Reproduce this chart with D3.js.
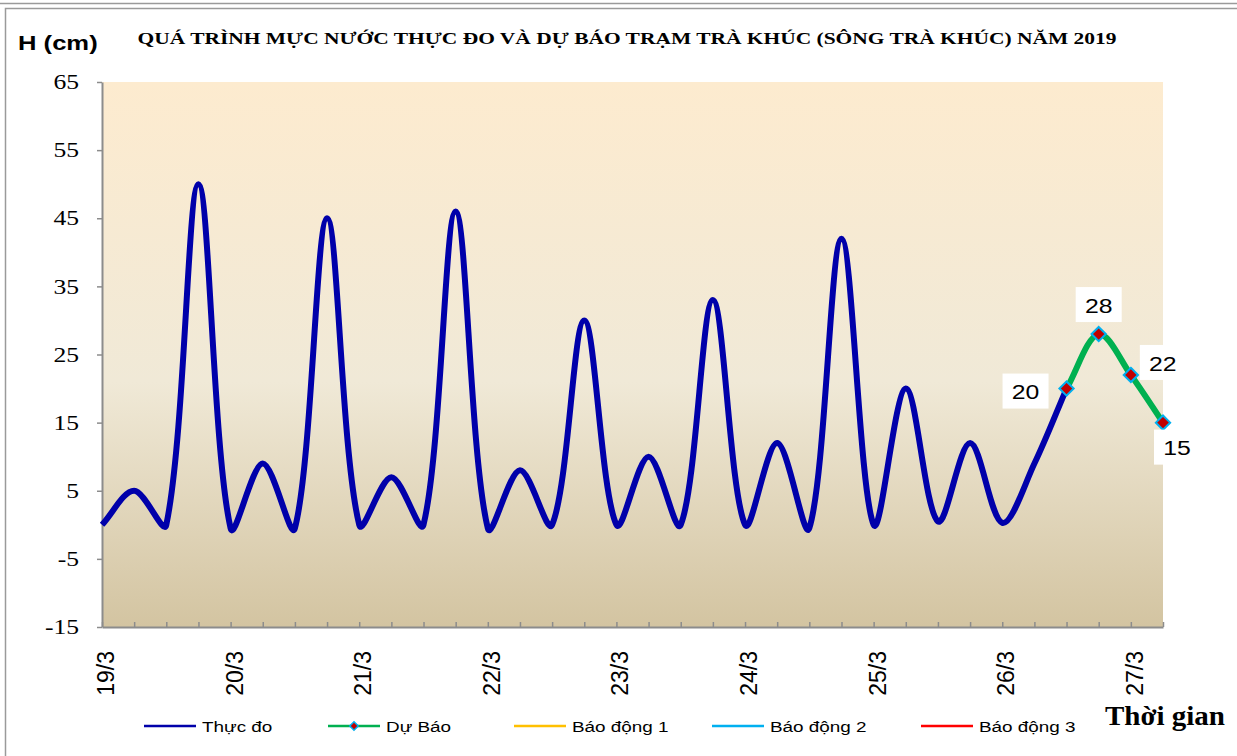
<!DOCTYPE html>
<html>
<head>
<meta charset="utf-8">
<script src="https://cdn.jsdelivr.net/npm/d3@7"></script>
<style>
  body { margin: 0; background: #fff; }
  svg { display: block; }
</style>
</head>
<body>
<div id="chart"></div>
<script>
// muc nuoc Tra Khuc, 6h/diem, tu 19/3 den 27/3
var dayLabels = ["19/3", "20/3", "21/3", "22/3", "23/3", "24/3", "25/3", "26/3", "27/3"];
var yTicks = [-15, -5, 5, 15, 25, 35, 45, 55, 65];
var thucDo = [0, 5, 0, 50, -0.5, 9, -0.5, 45, 0, 7, 0, 46, -0.5, 8, 0, 30,
              0, 10, 0, 33, 0, 12, -0.5, 42, 0, 20, 0.5, 12, 0.3, 9, 20];
var duBao = [20, 28, 22, 15];
var duBaoStart = 30;
var legendNames = ["Thực đo", "Dự Báo", "Báo động 1", "Báo động 2", "Báo động 3"];
var legendColors = ["#0000AA", "#00B050", "#FFC000", "#00B0F0", "#FF0000"];

var WIDTH = 1237, HEIGHT = 756;
var X0 = 102, X1 = 1163, Y0 = 82, Y1 = 627;
var SX = 1.22;   // chu bi keo gian ngang trong hinh goc
var SANS = "'Liberation Sans', Arial, sans-serif";
var SERIF = "'Liberation Serif', 'Times New Roman', serif";

var svg = d3.select("#chart").append("svg")
    .attr("width", WIDTH)
    .attr("height", HEIGHT);

// khung ngoai
svg.append("line")
    .attr("x1", 0).attr("x2", WIDTH).attr("y1", 3.5).attr("y2", 3.5)
    .style("stroke", "#9a9a9a").style("stroke-width", 1.5);
svg.append("rect")
    .attr("x", 5.5).attr("y", 8.5)
    .attr("width", WIDTH).attr("height", HEIGHT)
    .style("fill", "none").style("stroke", "#9a9a9a").style("stroke-width", 1.5);

var nPts = thucDo.length + duBao.length - 2;   // so khoang = 33
var scaleX = d3.scaleLinear().domain([0, nPts]).range([X0, X1]);
var scaleY = d3.scaleLinear().domain([-15, 65]).range([Y1, Y0]);

// nen gradient
var defs = svg.append("defs");
var grad = defs.append("linearGradient")
    .attr("id", "bg").attr("x1", 0).attr("x2", 0).attr("y1", 0).attr("y2", 1);
grad.append("stop").attr("offset", "0%").attr("stop-color", "#FDEBCF");
grad.append("stop").attr("offset", "55%").attr("stop-color", "#F0E9D7");
grad.append("stop").attr("offset", "100%").attr("stop-color", "#D3C4A1");

svg.append("rect")
    .attr("x", X0).attr("y", Y0)
    .attr("width", X1 - X0).attr("height", Y1 - Y0)
    .style("fill", "url(#bg)");

// truc Y
var yAxis = d3.axisLeft(scaleY).tickValues(yTicks).tickSize(5).tickSizeOuter(0)
    .tickFormat(function(d) { return String(d); });
var gy = svg.append("g")
    .attr("transform", "translate(" + X0 + ",0)")
    .call(yAxis);
gy.select(".domain").style("stroke", "#8c8c8c").style("stroke-width", 2);
gy.selectAll(".tick line").style("stroke", "#8c8c8c").style("stroke-width", 1.5);
gy.selectAll(".tick text")
    .attr("x", -23 / SX)
    .attr("transform", "scale(" + SX + ",1)")
    .style("font-family", SERIF)
    .style("font-size", "21px")
    .style("fill", "#000");

// truc X
var xAxis = d3.axisBottom(scaleX).tickValues(d3.range(0, nPts + 1))
    .tickSize(5).tickSizeOuter(0).tickFormat("");
var gx = svg.append("g")
    .attr("transform", "translate(0," + Y1 + ")")
    .call(xAxis);
gx.select(".domain").style("stroke", "#8c8c8c").style("stroke-width", 2);
gx.selectAll(".tick line").attr("y1", -5).attr("y2", 0)
    .style("stroke", "#8c8c8c").style("stroke-width", 1.5);

svg.selectAll(".daylbl")
    .data(dayLabels)
    .enter()
    .append("text")
    .attr("class", "daylbl")
    .attr("transform", function(d, i) {
        return "translate(" + (scaleX(i * 4) + 12) + "," + (Y1 + 24) + ") rotate(-90)"; })
    .attr("text-anchor", "end")
    .style("font-family", SANS)
    .style("font-size", "23px")
    .text(function(d) { return d; });

// duong cong muot kieu Excel: tiep tuyen chia theo do dai doan ke
function smoothPath(pts) {
    var p = pts.map(function(d) { return [scaleX(d.i), scaleY(d.v)]; });
    var n = p.length;
    var cin = [], cout = [];
    for (var i = 0; i < n; i++) {
        var a = p[Math.max(i - 1, 0)], b = p[i], c = p[Math.min(i + 1, n - 1)];
        var dPrev = Math.hypot(b[0] - a[0], b[1] - a[1]);
        var dNext = Math.hypot(c[0] - b[0], c[1] - b[1]);
        var tot = dPrev + dNext || 1;
        var tx = c[0] - a[0], ty = c[1] - a[1];
        cin.push([b[0] - tx * dPrev / tot / 3, b[1] - ty * dPrev / tot / 3]);
        cout.push([b[0] + tx * dNext / tot / 3, b[1] + ty * dNext / tot / 3]);
    }
    var path = d3.path();
    path.moveTo(p[0][0], p[0][1]);
    for (var j = 1; j < n; j++) {
        path.bezierCurveTo(cout[j - 1][0], cout[j - 1][1], cin[j][0], cin[j][1], p[j][0], p[j][1]);
    }
    return path.toString();
}

var obsPts = thucDo.map(function(v, i) { return { i: i, v: v }; });
var fcPts = duBao.map(function(v, i) { return { i: duBaoStart + i, v: v }; });

svg.append("path")
    .attr("d", smoothPath(obsPts))
    .style("fill", "none")
    .style("stroke", legendColors[0])
    .style("stroke-width", 6)
    .style("stroke-linejoin", "round");

svg.append("path")
    .attr("d", smoothPath(fcPts))
    .style("fill", "none")
    .style("stroke", legendColors[1])
    .style("stroke-width", 6);

var diamond = d3.symbol().type(d3.symbolDiamond2).size(130);
svg.selectAll(".mk")
    .data(fcPts)
    .enter()
    .append("path")
    .attr("class", "mk")
    .attr("d", diamond)
    .attr("transform", function(d) { return "translate(" + scaleX(d.i) + "," + scaleY(d.v) + ")"; })
    .style("fill", "#C00000")
    .style("stroke", "#00B0F0")
    .style("stroke-width", 2);

// nhan gia tri du bao
var lblOff = [[-41, 3], [0, -29], [32, -12], [14, 25]];
var lbl = svg.selectAll(".vl")
    .data(fcPts)
    .enter()
    .append("g")
    .attr("class", "vl")
    .attr("transform", function(d, i) {
        return "translate(" + (scaleX(d.i) + lblOff[i][0]) + "," + (scaleY(d.v) + lblOff[i][1]) + ")"; });
lbl.append("rect")
    .attr("x", -23).attr("y", -18).attr("width", 46).attr("height", 35)
    .style("fill", "#fff");
lbl.append("text")
    .attr("text-anchor", "middle")
    .attr("dy", "0.36em")
    .attr("transform", "scale(1.18,1)")
    .style("font-family", SANS)
    .style("font-size", "21px")
    .text(function(d) { return d.v; });

// tieu de
svg.append("text")
    .attr("x", 627).attr("y", 44)
    .attr("text-anchor", "middle")
    .attr("textLength", 979)
    .attr("lengthAdjust", "spacingAndGlyphs")
    .style("font-family", SERIF)
    .style("font-weight", "bold")
    .style("font-size", "16.5px")
    .text("QUÁ TRÌNH MỰC NƯỚC THỰC ĐO VÀ DỰ BÁO TRẠM TRÀ KHÚC (SÔNG TRÀ KHÚC) NĂM 2019");

svg.append("text")
    .attr("transform", "translate(18,50) scale(" + SX + ",1)")
    .style("font-family", SANS)
    .style("font-weight", "bold")
    .style("font-size", "21px")
    .text("H (cm)");

svg.append("text")
    .attr("x", 1105).attr("y", 725)
    .attr("textLength", 120)
    .attr("lengthAdjust", "spacingAndGlyphs")
    .style("font-family", SERIF)
    .style("font-weight", "bold")
    .style("font-size", "27px")
    .text("Thời gian");

// chu giai
var legX = [144, 328, 514, 712, 921];
var legY = 726;
var leg = svg.selectAll(".leg")
    .data(legendNames)
    .enter()
    .append("g")
    .attr("class", "leg")
    .attr("transform", function(d, i) { return "translate(" + legX[i] + "," + legY + ")"; });
leg.append("line")
    .attr("x1", 0).attr("x2", 52)
    .style("stroke", function(d, i) { return legendColors[i]; })
    .style("stroke-width", 2.5);
leg.filter(function(d, i) { return i == 1; })
    .append("path")
    .attr("d", d3.symbol().type(d3.symbolDiamond2).size(45))
    .attr("transform", "translate(26,0)")
    .style("fill", "#C00000")
    .style("stroke", "#00B0F0")
    .style("stroke-width", 1.5);
leg.append("text")
    .attr("transform", "translate(58,0) scale(" + SX + ",1)")
    .attr("dy", "0.36em")
    .style("font-family", SANS)
    .style("font-size", "15.5px")
    .text(function(d) { return d; });
</script>
</body>
</html>
